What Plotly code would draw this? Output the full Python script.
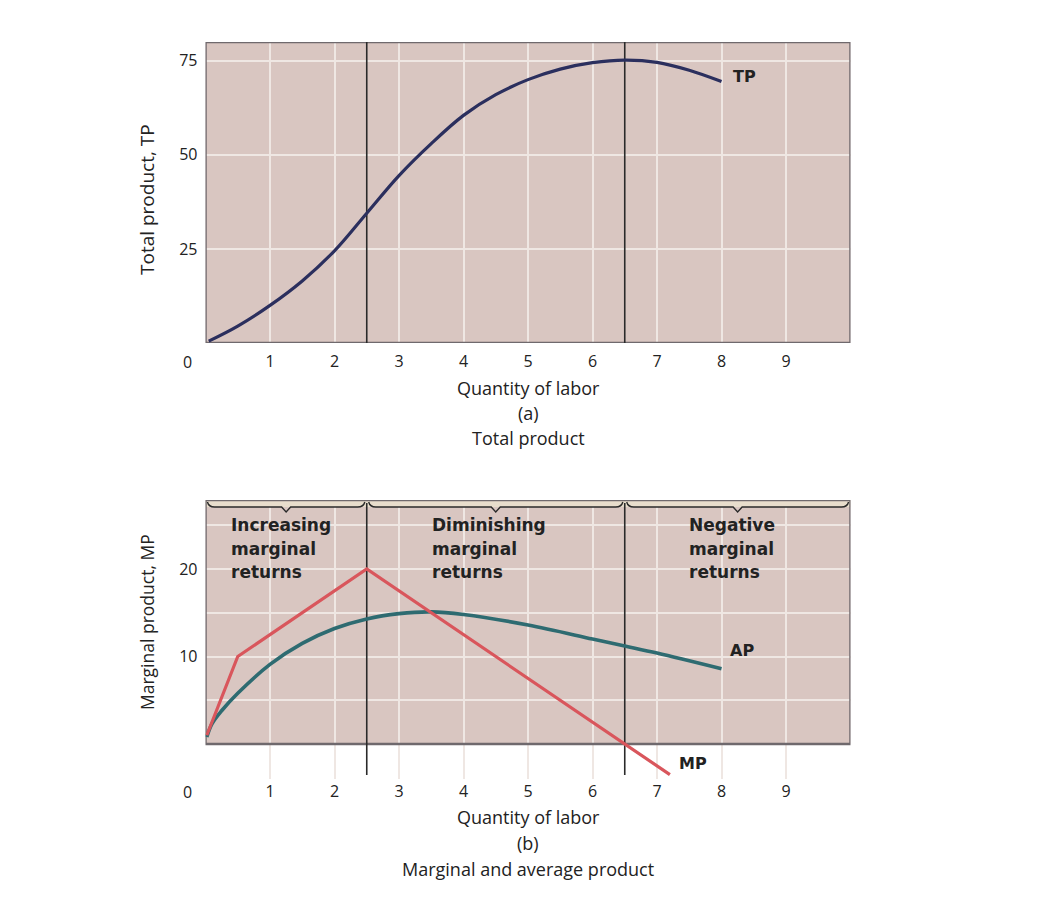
import plotly.graph_objects as go

# ---------------- data ----------------
x_ticks = [1, 2, 3, 4, 5, 6, 7, 8, 9]
tp_yticks = [25, 50, 75]
mp_yticks = [10, 20]

tp_x = [0.05, 0.5, 1, 1.5, 2, 2.5, 3, 3.5, 4, 4.5, 5, 5.5, 6, 6.5, 7, 7.5, 8]
tp_y = [0.5, 4.5, 10, 16.5, 24.5, 34.5, 44.5, 53, 60.5, 66, 70, 72.8, 74.5, 75.2, 74.6, 72.5, 69.5]

mp_x = [0.02, 0.5, 2.5, 6.5, 7.2]
mp_y = [1, 10, 20, 0, -3.5]

ap_x = [0.02, 0.1, 0.25, 0.5, 1, 1.5, 2, 2.5, 3, 3.5, 4, 5, 6, 6.5, 7, 8]
ap_y = [0.8, 2.3, 3.8, 5.8, 9.1, 11.5, 13.2, 14.3, 14.9, 15.1, 14.8, 13.6, 12.0, 11.2, 10.4, 8.6]

boundaries = [0, 2.5, 6.5, 10]
region_labels = [["Increasing", "marginal", "returns"],
                 ["Diminishing", "marginal", "returns"],
                 ["Negative", "marginal", "returns"]]

# ---------------- styling ----------------
OFF = 8                      # browser body margin
FW, FH = 1034, 902
PINK = "#d9c6c1"
GRID = "#efe7e3"
FRAME = "#6f696d"
TXT = "#222222"
FONT = "Open Sans"
BOLD = "DejaVu Sans"

X0PX, X1PX = 205.5, 850.5
TOP_T, TOP_B = 42, 343
BOT_T, BOT_B = 500, 779
BOT_ZERO = 744
BOT_SCALE = 8.75
top_y_range = [0, 80]
bot_y_range = [-(BOT_B - BOT_ZERO) / BOT_SCALE, (BOT_ZERO - BOT_T) / BOT_SCALE]
y_top2 = bot_y_range[1]


def py2(px):
    return (BOT_ZERO - px) / BOT_SCALE


def px_x(px):
    return (px - OFF) / FW


def px_y(px):
    return 1 - (px - OFF) / FH


fig = go.Figure()

fig.add_trace(go.Scatter(x=tp_x, y=tp_y, mode="lines", xaxis="x", yaxis="y",
                         line=dict(color="#2b2f5e", width=3.2, shape="spline", smoothing=1.0),
                         hoverinfo="skip", showlegend=False))
fig.add_trace(go.Scatter(x=ap_x, y=ap_y, mode="lines", xaxis="x2", yaxis="y2",
                         line=dict(color="#2e6b71", width=3.6, shape="spline", smoothing=1.0),
                         hoverinfo="skip", showlegend=False))
fig.add_trace(go.Scatter(x=mp_x, y=mp_y, mode="lines", xaxis="x2", yaxis="y2",
                         line=dict(color="#d9565c", width=3.2),
                         hoverinfo="skip", showlegend=False, cliponaxis=False))

shapes = []
shapes.append(dict(type="rect", xref="x", yref="y", x0=0, x1=10, y0=0, y1=80,
                   fillcolor=PINK, line=dict(width=0), layer="below"))
shapes.append(dict(type="rect", xref="x2", yref="y2", x0=0, x1=10, y0=0, y1=y_top2,
                   fillcolor=PINK, line=dict(width=0), layer="below"))
shapes.append(dict(type="rect", xref="x2", yref="y2", x0=0, x1=10, y0=py2(507), y1=y_top2,
                   fillcolor="#e8ddcc", line=dict(width=0), layer="between"))
shapes.append(dict(type="rect", xref="x", yref="y", x0=0, x1=10, y0=0, y1=80,
                   fillcolor="rgba(0,0,0,0)", line=dict(color=FRAME, width=2.5), layer="between"))
shapes.append(dict(type="rect", xref="x2", yref="y2", x0=0, x1=10, y0=0, y1=y_top2,
                   fillcolor="rgba(0,0,0,0)", line=dict(color=FRAME, width=2.5), layer="between"))
for b in boundaries[1:3]:
    shapes.append(dict(type="line", xref="x", yref="y", x0=b, x1=b, y0=0, y1=80,
                       line=dict(color="#2a2a2a", width=1.6), layer="between"))
    shapes.append(dict(type="line", xref="x2", yref="y2", x0=b, x1=b, y0=-3.55, y1=py2(503),
                       line=dict(color="#2a2a2a", width=1.6), layer="between"))
yl = py2(507)
yh = py2(502)
yt = py2(512)
for a, b in zip(boundaries[:-1], boundaries[1:]):
    m = (a + b) / 2
    path = (f"M {a+0.03},{yh} Q {a+0.05},{yl} {a+0.14},{yl} "
            f"L {m-0.07},{yl} L {m},{yt} L {m+0.07},{yl} "
            f"L {b-0.14},{yl} Q {b-0.05},{yl} {b-0.03},{yh}")
    shapes.append(dict(type="path", xref="x2", yref="y2", path=path,
                       line=dict(color="#2a2a2a", width=1.4), layer="above"))

annotations = []
lab_font = dict(family=BOLD, size=16, color=TXT)
annotations.append(dict(x=8.36, y=70.8, xref="x", yref="y", text="<b>TP</b>", showarrow=False,
                        xanchor="center", yanchor="middle", font=lab_font))
annotations.append(dict(x=8.32, y=py2(650), xref="x2", yref="y2", text="<b>AP</b>", showarrow=False,
                        xanchor="center", yanchor="middle", font=lab_font))
annotations.append(dict(x=7.56, y=py2(763), xref="x2", yref="y2", text="<b>MP</b>", showarrow=False,
                        xanchor="center", yanchor="middle", font=lab_font))
region_x = [0.37, 3.48, 7.46]
for rx, lines in zip(region_x, region_labels):
    for i, t in enumerate(lines):
        annotations.append(dict(x=rx, y=py2(525 + 23.5 * i), xref="x2", yref="y2", text=f"<b>{t}</b>",
                                showarrow=False, xanchor="left", yanchor="middle",
                                font=dict(family=BOLD, size=17, color=TXT)))
for ypx in (362, 792):
    annotations.append(dict(x=px_x(187), y=px_y(ypx), xref="paper", yref="paper", text="0",
                            showarrow=False, xanchor="center", yanchor="middle",
                            font=dict(family=FONT, size=16, color=TXT)))
cx = px_x(528)
for txt, ypx in [("Quantity of labor", 388), ("(a)", 413), ("Total product", 438),
                 ("Quantity of labor", 817), ("(b)", 843), ("Marginal and average product", 869)]:
    annotations.append(dict(x=cx, y=px_y(ypx), xref="paper", yref="paper", text=txt,
                            showarrow=False, xanchor="center", yanchor="middle",
                            font=dict(family=FONT, size=18, color=TXT)))
annotations.append(dict(x=px_x(147), y=px_y(200), xref="paper", yref="paper", text="Total product, TP",
                        textangle=-90, showarrow=False, xanchor="center", yanchor="middle",
                        font=dict(family=FONT, size=19, color=TXT)))
annotations.append(dict(x=px_x(147), y=px_y(622), xref="paper", yref="paper", text="Marginal product, MP",
                        textangle=-90, showarrow=False, xanchor="center", yanchor="middle",
                        font=dict(family=FONT, size=17.5, color=TXT)))

xdom = [px_x(X0PX), px_x(X1PX)]
axis_common = dict(showline=False, zeroline=False,
                   tickfont=dict(family=FONT, size=16, color=TXT),
                   gridcolor=GRID, gridwidth=1.6, ticks="", fixedrange=True)

fig.update_layout(
    width=FW, height=FH, autosize=False,
    margin=dict(l=0, r=0, t=0, b=0),
    paper_bgcolor="white", plot_bgcolor="white",
    showlegend=False,
    shapes=shapes, annotations=annotations,
    xaxis=dict(domain=xdom, range=[0, 10], anchor="y", tickvals=x_ticks, ticklabelstandoff=7, **axis_common),
    yaxis=dict(domain=[px_y(TOP_B), px_y(TOP_T)], range=top_y_range, anchor="x",
               tickvals=tp_yticks, ticklabelstandoff=7, **axis_common),
    xaxis2=dict(domain=xdom, range=[0, 10], anchor="y2", tickvals=x_ticks, ticklabelstandoff=1, **axis_common),
    yaxis2=dict(domain=[px_y(BOT_B), px_y(BOT_T)], range=bot_y_range, anchor="x2",
                tickvals=[5, 10, 15, 20, 25], ticktext=["", "10", "", "20", ""],
                ticklabelstandoff=7, **axis_common),
)

fig.write_html("out.html")
